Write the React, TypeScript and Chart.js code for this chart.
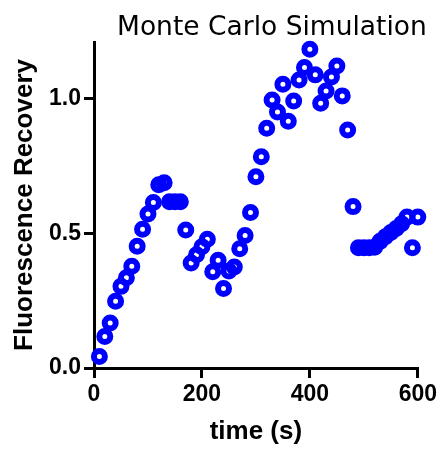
import React, { useEffect, useRef } from "react";
import { Chart, registerables } from "chart.js";

Chart.register(...registerables);

const times = [
  10, 20, 30, 40, 50, 60, 70, 80, 90, 100,
  110, 120, 130, 140, 150, 160, 170, 180, 190, 200,
  210, 220, 230, 240, 250, 260, 270, 280, 290, 300,
  310, 320, 330, 340, 350, 360, 370, 380, 390, 400,
  410, 420, 430, 440, 450, 460, 470, 480, 490, 500,
  510, 520, 530, 540, 550, 560, 570, 580, 590, 600,
];

const recovery = [
  0.043, 0.117, 0.167, 0.248, 0.303, 0.335, 0.378, 0.452, 0.515, 0.572,
  0.614, 0.68, 0.688, 0.617, 0.617, 0.617, 0.512, 0.39, 0.42, 0.45,
  0.478, 0.357, 0.4, 0.295, 0.36, 0.375, 0.443, 0.492, 0.577, 0.71,
  0.784, 0.89, 0.995, 0.95, 1.053, 0.916, 0.991, 1.069, 1.115, 1.183,
  1.088, 0.983, 1.028, 1.08, 1.121, 1.01, 0.883, 0.599, 0.446, 0.446,
  0.446, 0.448, 0.47, 0.487, 0.503, 0.518, 0.535, 0.56, 0.446, 0.56,
];

const xTickValues = [0, 200, 400, 600];
const yTickValues = [0, 0.5, 1.0];

const chartTitle = "Monte Carlo Simulation";
const xAxisLabel = "time (s)";
const yAxisLabel = "Fluorescence Recovery";

const BOLD = '"Liberation Sans", Arial, Helvetica, sans-serif';

export default function App() {
  const ref = useRef<HTMLCanvasElement>(null);

  useEffect(() => {
    if (!ref.current) return;
    const titlePlugin = {
      id: "mcTitle",
      afterDraw(chart: any) {
        const { ctx, chartArea } = chart;
        ctx.save();
        ctx.font = '26.5px "DejaVu Sans", sans-serif';
        ctx.fillStyle = "#000";
        ctx.textAlign = "center";
        ctx.textBaseline = "alphabetic";
        ctx.fillText(chartTitle, (chartArea.left + chartArea.right) / 2 + 16, 35);
        ctx.restore();
      },
    };

    const chart = new Chart(ref.current, {
      type: "scatter",
      data: {
        datasets: [
          {
            data: times.map((t, i) => ({ x: t, y: recovery[i] })),
            pointRadius: 5.5,
            pointHoverRadius: 5.5,
            pointBorderWidth: 6,
            borderColor: "#0000ff",
            pointBorderColor: "#0000ff",
            backgroundColor: "rgba(0,0,0,0)",
            pointBackgroundColor: "rgba(0,0,0,0)",
            clip: false,
          } as any,
        ],
      },
      options: {
        responsive: false,
        animation: false,
        events: [],
        layout: { padding: { top: 42, right: 22, bottom: 0, left: 0 } },
        plugins: {
          legend: { display: false },
          tooltip: { enabled: false },
        },
        scales: {
          x: {
            type: "linear",
            min: 0,
            max: 600,
            afterFit(s: any) {
              s.height = 81;
            },
            afterBuildTicks(s: any) {
              s.ticks = xTickValues.map((v) => ({ value: v }));
            },
            ticks: {
              font: { family: BOLD, size: 23, weight: "bold" },
              color: "#000",
              padding: 3,
              maxRotation: 0,
              autoSkip: false,
              callback: (v: any) => String(v),
            },
            grid: {
              display: true,
              drawOnChartArea: false,
              drawTicks: true,
              tickLength: 10,
              lineWidth: 3,
              color: "#000",
            },
            border: { display: true, width: 3, color: "#000" },
            title: {
              display: true,
              text: xAxisLabel,
              font: { family: BOLD, size: 26, weight: "bold", lineHeight: 1.2 },
              color: "#000",
              padding: { top: 0, bottom: 2 },
            },
          },
          y: {
            type: "linear",
            min: 0,
            max: 1.21,
            afterFit(s: any) {
              s.width = 94;
            },
            afterBuildTicks(s: any) {
              s.ticks = yTickValues.map((v) => ({ value: v }));
            },
            ticks: {
              font: { family: BOLD, size: 23, weight: "bold" },
              color: "#000",
              padding: 3,
              autoSkip: false,
              callback: (v: any) => Number(v).toFixed(1),
            },
            grid: {
              display: true,
              drawOnChartArea: false,
              drawTicks: true,
              tickLength: 10,
              lineWidth: 3,
              color: "#000",
            },
            border: { display: true, width: 3, color: "#000" },
            title: {
              display: true,
              text: yAxisLabel,
              font: { family: BOLD, size: 26, weight: "bold", lineHeight: 1.2 },
              color: "#000",
              padding: { top: 9, bottom: 0 },
            },
          },
        },
      } as any,
      plugins: [titlePlugin],
    });
    return () => chart.destroy();
  }, []);

  return (
    <div style={{ position: "absolute", left: 0, top: 0, width: 440, height: 449 }}>
      <canvas ref={ref} width={440} height={449} />
    </div>
  );
}
